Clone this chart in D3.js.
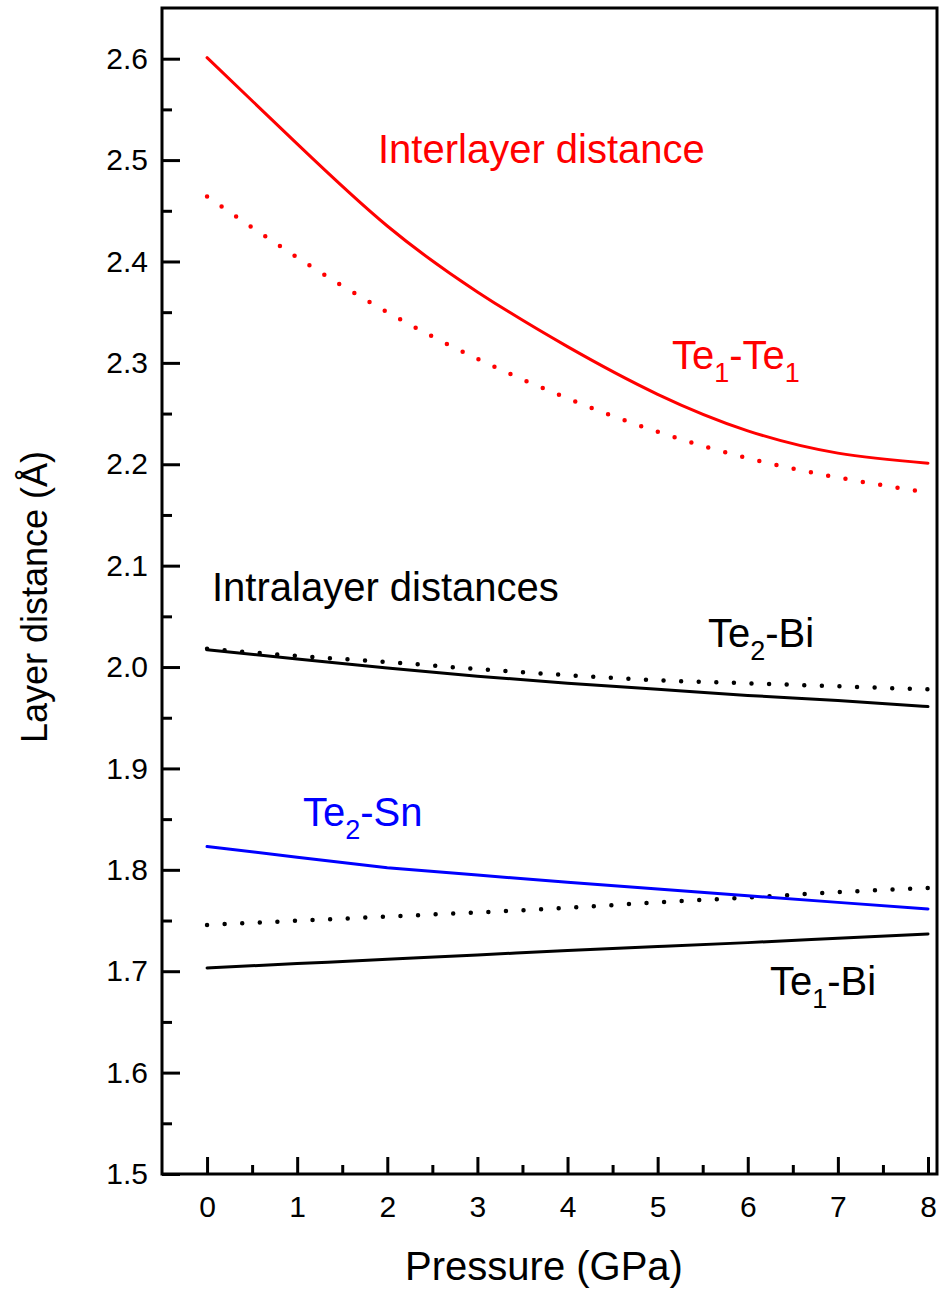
<!DOCTYPE html>
<html>
<head>
<meta charset="utf-8">
<script src="https://cdn.jsdelivr.net/npm/d3@7"></script>
<style>
  body { margin: 0; background: #fff; }
  text { font-family: Arial, "Liberation Sans", sans-serif; }
</style>
</head>
<body>
<div id="chart-area"></div>
<script>
// pressure points (GPa)
var pressure = [0, 1, 2, 3, 4, 5, 6, 7, 8];

// layer distances (Å)
var te1te1Solid = [2.601, 2.516, 2.435, 2.370, 2.316, 2.269, 2.233, 2.211, 2.201];
var te1te1Dot   = [2.464, 2.404, 2.350, 2.304, 2.265, 2.232, 2.206, 2.187, 2.172];
var te2biSolid  = [2.017, 2.008, 1.999, 1.991, 1.984, 1.978, 1.972, 1.967, 1.961];
var te2biDot    = [2.018, 2.011, 2.005, 1.998, 1.992, 1.987, 1.984, 1.981, 1.978];
var te2snSolid  = [1.823, 1.8125, 1.802, 1.7948, 1.7878, 1.781, 1.7745, 1.7679, 1.7614];
var te1biDot    = [1.7457, 1.7498, 1.7539, 1.758, 1.7625, 1.768, 1.7726, 1.778, 1.782];
var te1biSolid  = [1.7032, 1.7075, 1.7118, 1.716, 1.7205, 1.7243, 1.7282, 1.7325, 1.7368];

var xTicks = [0, 1, 2, 3, 4, 5, 6, 7, 8];
var xMinorTicks = [0.5, 1.5, 2.5, 3.5, 4.5, 5.5, 6.5, 7.5];
var yTicks = [1.5, 1.6, 1.7, 1.8, 1.9, 2.0, 2.1, 2.2, 2.3, 2.4, 2.5, 2.6];
var yMinorTicks = [1.55, 1.65, 1.75, 1.85, 1.95, 2.05, 2.15, 2.25, 2.35, 2.45, 2.55];

var margin = { top: 8, right: 2, bottom: 120, left: 162 };
var width = 939 - margin.left - margin.right;
var height = 1294 - margin.top - margin.bottom;

var svg = d3.select("#chart-area").append("svg")
    .attr("width", width + margin.left + margin.right)
    .attr("height", height + margin.top + margin.bottom);

var g = svg.append("g")
    .attr("transform", "translate(" + margin.left + ", " + margin.top + ")");

var x = d3.scaleLinear()
    .domain([-0.5, 8.1])
    .range([0, width]);

var y = d3.scaleLinear()
    .domain([1.5, 2.65])
    .range([height, 0]);

// axes, ticks pointing inward
var xAxisGroup = g.append("g")
    .attr("transform", "translate(0," + height + ")")
    .call(d3.axisBottom(x).tickValues(xTicks).tickSize(-17).tickSizeOuter(0).tickPadding(16));

g.append("g")
    .attr("transform", "translate(0," + height + ")")
    .call(d3.axisBottom(x).tickValues(xMinorTicks).tickSize(-9).tickSizeOuter(0).tickFormat(""));

var yAxisGroup = g.append("g")
    .call(d3.axisLeft(y).tickValues(yTicks).tickSize(-18).tickSizeOuter(0).tickPadding(14)
        .tickFormat(d3.format(".1f")));

g.append("g")
    .call(d3.axisLeft(y).tickValues(yMinorTicks).tickSize(-10).tickSizeOuter(0).tickFormat(""));

g.selectAll(".domain").remove();
g.selectAll(".tick line").attr("stroke", "#000").attr("stroke-width", 3);
g.selectAll(".tick text")
    .attr("font-size", "30px")
    .attr("fill", "#000")
    .attr("font-family", "Arial, 'Liberation Sans', sans-serif");
xAxisGroup.selectAll(".tick text").attr("dy", "0.9em");

// frame
g.append("rect")
    .attr("x", 0)
    .attr("y", 0)
    .attr("width", width)
    .attr("height", height)
    .attr("fill", "none")
    .attr("stroke", "#000")
    .attr("stroke-width", 3);

// curves
var series = [
    { values: te1te1Solid, color: "#ff0000", dotted: false, curve: d3.curveNatural },
    { values: te1te1Dot, color: "#ff0000", dotted: true, curve: d3.curveNatural },
    { values: te2biDot, color: "#000", dotted: true, curve: d3.curveMonotoneX },
    { values: te2biSolid, color: "#000", dotted: false, curve: d3.curveMonotoneX },
    { values: te1biDot, color: "#000", dotted: true, curve: d3.curveMonotoneX },
    { values: te1biSolid, color: "#000", dotted: false, curve: d3.curveMonotoneX },
    { values: te2snSolid, color: "#0000ff", dotted: false, curve: d3.curveLinear }
];

series.forEach(function(s) {
    var line = d3.line()
        .x(function(d, i) { return x(pressure[i]); })
        .y(function(d) { return y(d); })
        .curve(s.curve);
    g.append("path")
        .datum(s.values)
        .attr("fill", "none")
        .attr("stroke", s.color)
        .attr("stroke-width", s.dotted ? 4.5 : 3)
        .attr("stroke-linecap", "round")
        .attr("stroke-dasharray", s.dotted ? "0 17.6" : null)
        .attr("d", line);
});

// labels
function subLabel(px, py, color, parts) {
    var t = g.append("text")
        .attr("x", px)
        .attr("y", py)
        .attr("font-size", "40px")
        .attr("fill", color);
    parts.forEach(function(p) {
        var ts = t.append("tspan").text(p.text);
        if (p.sub) ts.attr("font-size", "27px").attr("dy", 13);
        if (p.up) ts.attr("dy", -13);
    });
}

g.append("text")
    .attr("x", 378 - margin.left)
    .attr("y", 163 - margin.top)
    .attr("font-size", "40px")
    .attr("fill", "#ff0000")
    .text("Interlayer distance");

g.append("text")
    .attr("x", 212 - margin.left)
    .attr("y", 601 - margin.top)
    .attr("font-size", "40px")
    .attr("fill", "#000")
    .text("Intralayer distances");

subLabel(672 - margin.left, 369 - margin.top, "#ff0000",
    [{ text: "Te" }, { text: "1", sub: true }, { text: "-Te", up: true }, { text: "1", sub: true }]);
subLabel(708 - margin.left, 647 - margin.top, "#000",
    [{ text: "Te" }, { text: "2", sub: true }, { text: "-Bi", up: true }]);
subLabel(303 - margin.left, 826 - margin.top, "#0000ff",
    [{ text: "Te" }, { text: "2", sub: true }, { text: "-Sn", up: true }]);
subLabel(770 - margin.left, 995 - margin.top, "#000",
    [{ text: "Te" }, { text: "1", sub: true }, { text: "-Bi", up: true }]);

// axis titles
g.append("text")
    .attr("x", 544 - margin.left)
    .attr("y", 1280 - margin.top)
    .attr("font-size", "40px")
    .attr("text-anchor", "middle")
    .text("Pressure (GPa)");

g.append("text")
    .attr("x", -(height / 2) - 6)
    .attr("y", 47 - margin.left)
    .attr("font-size", "36px")
    .attr("text-anchor", "middle")
    .attr("transform", "rotate(-90)")
    .text("Layer distance (Å)");
</script>
</body>
</html>
